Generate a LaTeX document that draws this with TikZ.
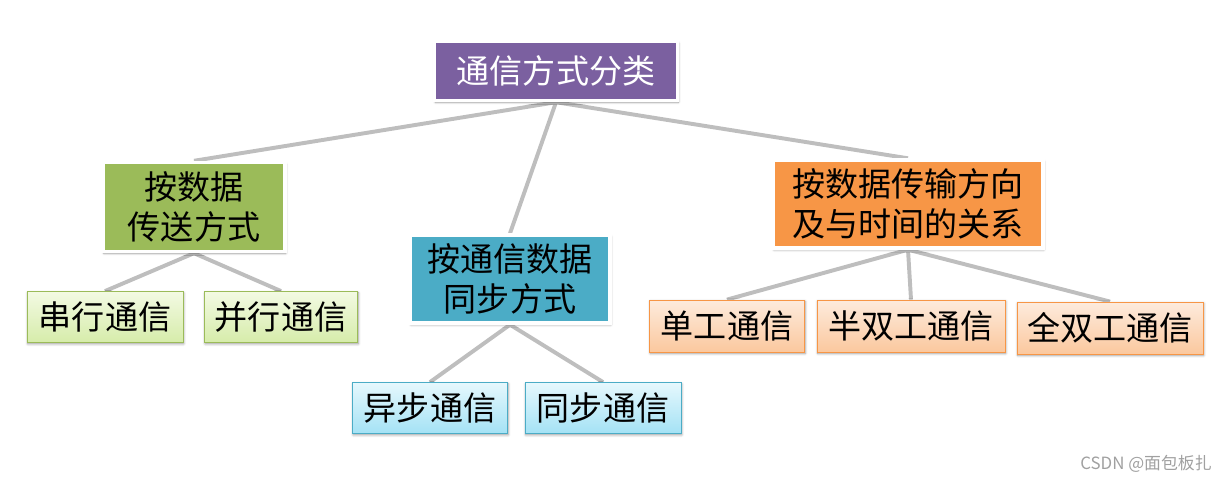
\documentclass[tikz,border=0pt]{standalone}
\usepackage{fontspec}
\usepackage{xcolor}
\usepackage{tikz}
\usetikzlibrary{positioning, backgrounds, shadows.blur}
\newfontfamily\cjk{Noto Sans CJK SC}
\definecolor{tcPurple}{HTML}{7B60A0}
\definecolor{tcGreen}{HTML}{9BBB59}
\definecolor{tcTeal}{HTML}{4BACC6}
\definecolor{tcOrange}{HTML}{F79646}
\definecolor{tcGreenTop}{HTML}{F3FAE3}
\definecolor{tcGreenBot}{HTML}{D6ECAA}
\definecolor{tcBlueTop}{HTML}{E6F8FD}
\definecolor{tcBlueBot}{HTML}{A4E2F5}
\definecolor{tcOrangeTop}{HTML}{FDEBDD}
\definecolor{tcOrangeBot}{HTML}{FBC89E}
\definecolor{tcLine}{HTML}{BEBEBE}
\definecolor{tcMark}{HTML}{A0A0A0}
\tikzset{
  headbox/.style={
    rectangle, fill=#1,
    draw=white, line width=2.4pt,
    blur shadow={shadow xshift=0.6pt, shadow yshift=-1.2pt, shadow blur steps=6},
    inner sep=2pt, align=center,
    font=\cjk\fontsize{23.5}{28}\selectfont
  },
  leafbox/.style={
    rectangle, draw=#1, line width=0.6pt,
    blur shadow={shadow xshift=0.5pt, shadow yshift=-1pt, shadow blur steps=5},
    inner sep=2pt, minimum height=1.275cm, align=center,
    font=\cjk\fontsize{23.5}{28}\selectfont
  },
  link/.style={draw=tcLine, line width=2.8pt}
}

\begin{document}
\begin{tikzpicture}[x=0.025cm, y=-0.025cm]
  \useasboundingbox (0,0) rectangle (1227,482);
  % Root
  \node[headbox=tcPurple, text=white, minimum width=6.075cm, minimum height=1.475cm] (root) at (556,71) {通信方式分类};
  % Second level
  \node[headbox=tcGreen, minimum width=4.55cm, minimum height=2.225cm] (bytrans) at (194,207) {按数据\\传送方式};
  \node[headbox=tcTeal, minimum width=5.0cm, minimum height=2.2cm] (bysync) at (510,279) {按通信数据\\同步方式};
  \node[headbox=tcOrange, minimum width=6.75cm, minimum height=2.2cm] (bydir) at (908,204) {按数据传输方向\\及与时间的关系};
  % Leaves
  \node[leafbox=tcGreen, top color=tcGreenTop, bottom color=tcGreenBot, minimum width=3.9cm] (serial) at (105,317) {串行通信};
  \node[leafbox=tcGreen, top color=tcGreenTop, bottom color=tcGreenBot, minimum width=3.83cm] (parallel) at (281,317) {并行通信};
  \node[leafbox=tcTeal, top color=tcBlueTop, bottom color=tcBlueBot, minimum width=3.875cm] (async) at (430,408) {异步通信};
  \node[leafbox=tcTeal, top color=tcBlueTop, bottom color=tcBlueBot, minimum width=3.9cm] (sync) at (603,408) {同步通信};
  \node[leafbox=tcOrange, top color=tcOrangeTop, bottom color=tcOrangeBot, minimum width=3.875cm, minimum height=1.3cm] (simplex) at (727,326) {单工通信};
  \node[leafbox=tcOrange, top color=tcOrangeTop, bottom color=tcOrangeBot, minimum width=4.7cm, minimum height=1.3cm] (halfdup) at (911,326) {半双工通信};
  \node[leafbox=tcOrange, top color=tcOrangeTop, bottom color=tcOrangeBot, minimum width=4.65cm, minimum height=1.3cm] (fulldup) at (1110,328) {全双工通信};
  % Connectors behind the boxes
  \begin{scope}[on background layer]
    \draw[link] (root.south) -- (bytrans.north);
    \draw[link] (root.south) -- (bysync.north);
    \draw[link] (root.south) -- (bydir.north);
    \draw[link] (bytrans.south) -- (serial.north);
    \draw[link] (bytrans.south) -- (parallel.north);
    \draw[link] (bysync.south) -- (async.north);
    \draw[link] (bysync.south) -- (sync.north);
    \draw[link] (bydir.south) -- (simplex.north);
    \draw[link] (bydir.south) -- (halfdup.north);
    \draw[link] (bydir.south) -- (fulldup.north);
  \end{scope}
  % Watermark
  \node[text=tcMark, font=\cjk\fontsize{12}{14}\selectfont, anchor=east, inner sep=0pt] (mark) at (1212,464) {CSDN @面包板扎};
\end{tikzpicture}
\end{document}
